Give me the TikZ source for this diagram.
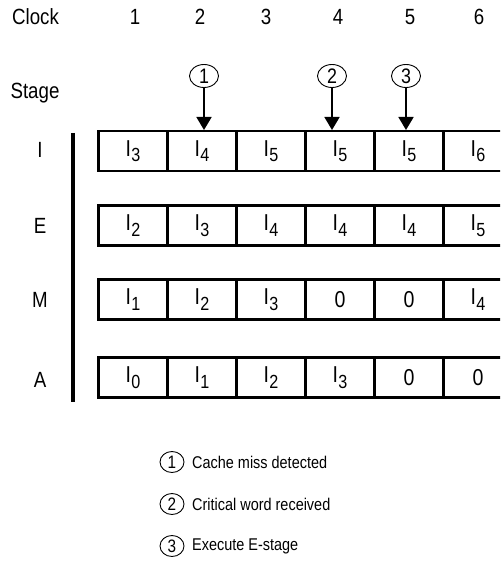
\documentclass[tikz,border=0pt]{standalone}
\usepackage{fontspec}
\setmainfont{Liberation Sans}[FakeStretch=0.85]
\usetikzlibrary{arrows.meta,shapes.geometric}

% instruction name with a large, dropped index
\newcommand\instr[1]{I\kern0.5pt\raisebox{-5.5pt}{\fontsize{19}{20}\selectfont #1}}

\begin{document}
\begin{tikzpicture}[x=1pt,y=-1pt,
  lbl/.style={font=\fontsize{22}{26}\selectfont, inner sep=0pt},
  legtext/.style={font=\fontsize{17}{20}\selectfont, inner sep=0pt, anchor=west},
  cell/.style={draw, line width=2.4pt, minimum width=69pt, minimum height=40pt,
    inner sep=0pt, font=\fontsize{23}{26}\selectfont},
  mark circle/.style={draw, ellipse, line width=0.9pt, minimum width=29pt,
    minimum height=23pt, inner sep=0pt, font=\fontsize{21}{24}\selectfont},
  event/.style={line width=1.8pt, -{Triangle[width=15pt,length=13pt]}},
  stagebar/.style={line width=3.4pt}]

\clip (0,0) rectangle (500,561);
\fill[white] (0,0) rectangle (500,561);

% clock header
\node[lbl] (clock) at (35.5,17) {Clock};
\foreach \n/\x in {1/135,2/200,3/266,4/338,5/410,6/479}
  \node[lbl] (clk\n) at (\x,17) {\n};

\node[lbl] (stage) at (35,93) {Stage};

% stage labels and bar
\node[lbl] (sI) at (40,150) {I};
\node[lbl] (sE) at (40,226) {E};
\node[lbl] (sM) at (40,300) {M};
\node[lbl] (sA) at (40,380) {A};
\coordinate (bartop) at (73,133);
\coordinate (barbot) at (73,402);
\draw[stagebar] (bartop) -- (barbot);

% pipeline cells: row name / centre y / contents
\foreach \r/\y/\a/\b/\c/\d/\e/\f in {
    I/151/\instr{3}/\instr{4}/\instr{5}/\instr{5}/\instr{5}/\instr{6},
    E/225.5/\instr{2}/\instr{3}/\instr{4}/\instr{4}/\instr{4}/\instr{5},
    M/299.5/\instr{1}/\instr{2}/\instr{3}/0/0/\instr{4},
    A/377.5/\instr{0}/\instr{1}/\instr{2}/\instr{3}/0/0} {
  \node[cell] (\r1) at (133,\y) {\a};
  \node[cell] (\r2) at (202,\y) {\b};
  \node[cell] (\r3) at (271,\y) {\c};
  \node[cell] (\r4) at (340,\y) {\d};
  \node[cell] (\r5) at (409,\y) {\e};
  \node[cell] (\r6) at (478,\y) {\f};
}

% event markers
\node[mark circle] (ev1) at (204,76) {1};
\node[mark circle] (ev2) at (332,76) {2};
\node[mark circle] (ev3) at (406,76) {3};
\coordinate (t1) at (204,130);
\coordinate (t2) at (332,130);
\coordinate (t3) at (406,130);
\draw[event] (ev1) -- (t1);
\draw[event] (ev2) -- (t2);
\draw[event] (ev3) -- (t3);

% legend
\tikzset{legmark/.style={mark circle, font=\fontsize{18}{21}\selectfont,
  minimum width=24pt, minimum height=21pt}}
\node[legmark] (lg1) at (172,462) {1};
\node[legmark] (lg2) at (172,504) {2};
\node[legmark] (lg3) at (172,546) {3};
\node[legtext] (lt1) at (192,462) {Cache miss detected};
\node[legtext] (lt2) at (192,504) {Critical word received};
\node[legtext] (lt3) at (192,546) {Execute E-stage};
\end{tikzpicture}
\end{document}
